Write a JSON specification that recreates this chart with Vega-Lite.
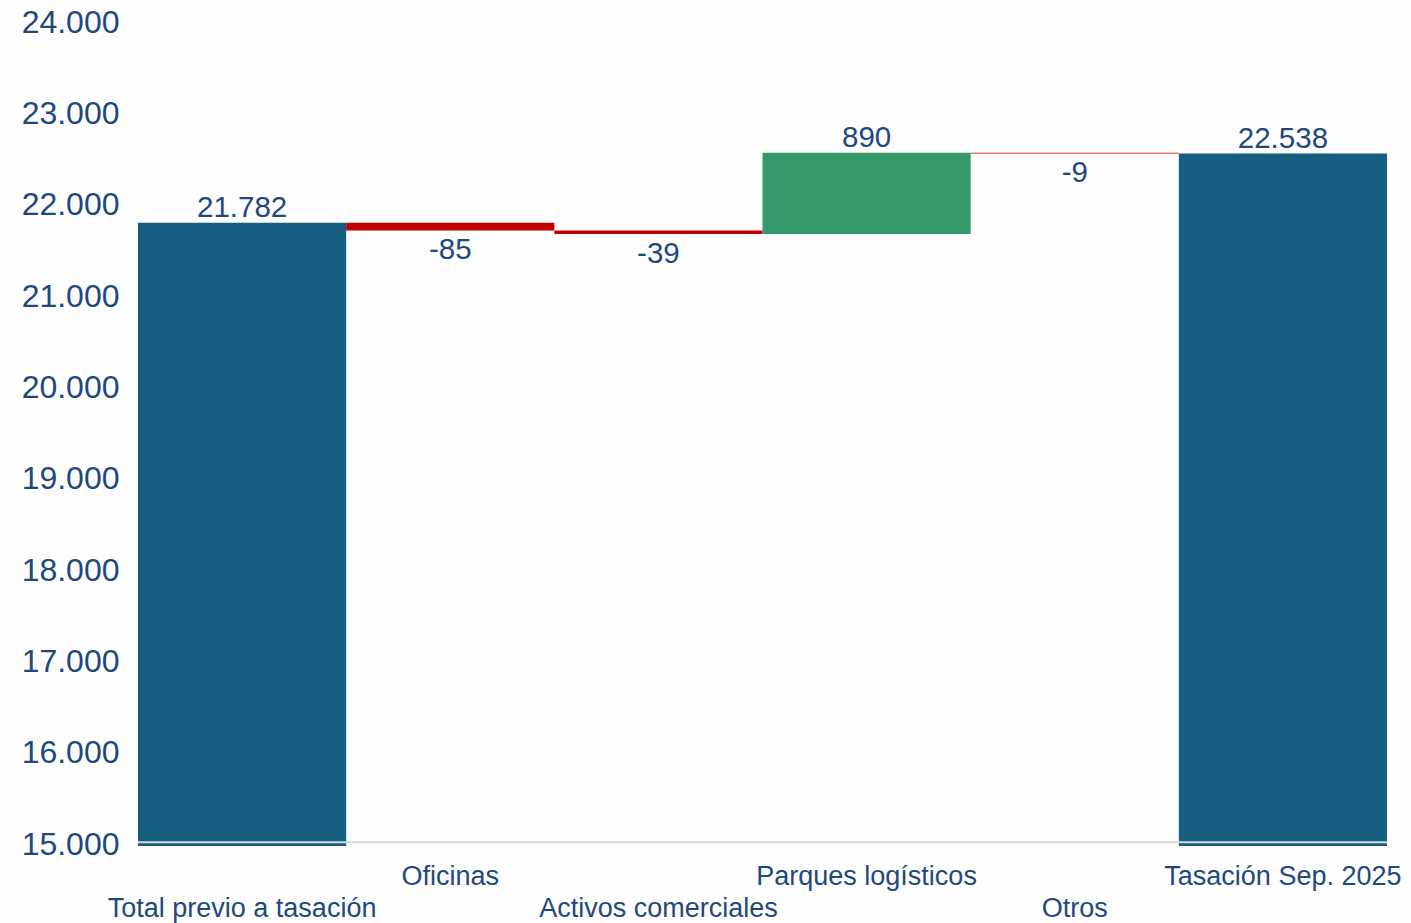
{
  "$schema": "https://vega.github.io/schema/vega-lite/v6.json",
  "autosize": "none",
  "width": 1249,
  "height": 826,
  "padding": {"left": 138, "top": 20, "right": 24, "bottom": 77},
  "background": "#FDFDFD",
  "config": {
    "view": {"stroke": null},
    "locale": {"number": {"decimal": ",", "thousands": ".", "grouping": [3], "currency": ["", " €"], "minus": "-"}},
    "font": "Liberation Sans"
  },
  "data": {
    "values": [
      {"cat": "Total previo a tasación", "start": 0, "end": 21782, "amount": 21782, "kind": "total"},
      {"cat": "Oficinas", "start": 21782, "end": 21697, "amount": -85, "kind": "neg"},
      {"cat": "Activos comerciales", "start": 21697, "end": 21658, "amount": -39, "kind": "neg"},
      {"cat": "Parques logísticos", "start": 21658, "end": 22548, "amount": 890, "kind": "pos"},
      {"cat": "Otros", "start": 22548, "end": 22539, "amount": -9, "kind": "neg"},
      {"cat": "Tasación Sep. 2025", "start": 0, "end": 22538, "amount": 22538, "kind": "total"}
    ]
  },
  "encoding": {
    "x": {
      "field": "cat",
      "type": "nominal",
      "sort": null,
      "scale": {"paddingInner": 0, "paddingOuter": 0},
      "axis": {
        "title": null,
        "domain": false,
        "ticks": false,
        "tickSize": 0,
        "labelAngle": 0,
        "labelFont": "Liberation Sans",
        "labelFontSize": 27,
        "labelColor": "#1F497D",
        "labelLimit": 0,
        "labelOverlap": false,
        "labelBound": false,
        "labelPadding": {
          "condition": {"test": "indexof(['Oficinas','Parques logísticos','Tasación Sep. 2025'], datum.value) >= 0", "value": 17},
          "value": 49
        }
      }
    }
  },
  "layer": [
    {
      "mark": {"type": "bar", "clip": true},
      "encoding": {
        "y": {
          "field": "start",
          "type": "quantitative",
          "scale": {"domain": [14960, 24000], "zero": false, "nice": false},
          "axis": {
            "title": null,
            "domain": false,
            "ticks": false,
            "tickSize": 0,
            "grid": false,
            "values": [15000, 16000, 17000, 18000, 19000, 20000, 21000, 22000, 23000, 24000],
            "format": ",d",
            "labelFont": "Liberation Sans",
            "labelFontSize": 32,
            "labelColor": "#1F497D",
            "labelPadding": 19,
            "labelOffset": 2
          }
        },
        "y2": {"field": "end"},
        "color": {
          "field": "kind",
          "type": "nominal",
          "scale": {"domain": ["total", "neg", "pos"], "range": ["#175F80", "#C00000", "#359A69"]},
          "legend": null
        }
      }
    },
    {
      "data": {"values": [{"base": 15000}]},
      "mark": {"type": "rule", "color": "#D9D9D9", "strokeWidth": 2},
      "encoding": {"y": {"field": "base", "type": "quantitative"}, "x": null}
    },
    {
      "transform": [{"filter": "datum.amount >= 0"}],
      "mark": {"type": "text", "baseline": "alphabetic", "dy": -6, "fontSize": 29.5, "color": "#1F497D", "font": "Liberation Sans"},
      "encoding": {
        "y": {"field": "end", "type": "quantitative"},
        "text": {"field": "amount", "type": "quantitative", "format": ",d"}
      }
    },
    {
      "transform": [{"filter": "datum.amount < 0"}],
      "mark": {"type": "text", "baseline": "top", "dy": 6, "fontSize": 29.5, "color": "#1F497D", "font": "Liberation Sans"},
      "encoding": {
        "y": {"field": "end", "type": "quantitative"},
        "text": {"field": "amount", "type": "quantitative", "format": ",d"}
      }
    }
  ]
}
